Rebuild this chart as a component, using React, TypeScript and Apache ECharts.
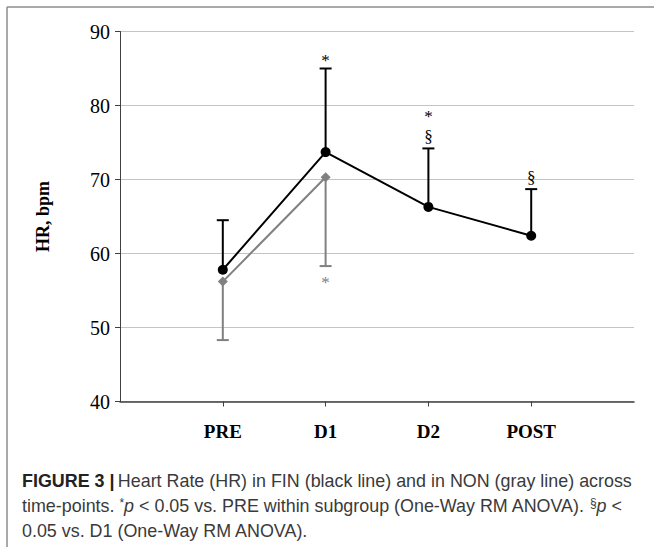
import React, { useEffect, useRef } from "react";
import * as echarts from "echarts";

const categories = ["PRE", "D1", "D2", "POST"];
const finMean = [57.8, 73.7, 66.3, 62.4];
const finUpper = [64.5, 85.0, 74.2, 68.7];
const finMarks = [[], ["*"], ["§", "*"], ["§"]];
const nonMean = [56.2, 70.3];
const nonLower = [48.3, 58.3];
const nonMarks = [[], ["*"]];
const yTicks = { min: 40, max: 90, interval: 10 };

const FIN_COLOR = "#000000";
const NON_COLOR = "#808080";
const SERIF = '"Liberation Serif", "Times New Roman", serif';

function errorBarSeries(name: string, means: number[], ends: number[], marks: string[][], color: string, up: boolean, z: number) {
  return {
    type: "custom",
    name,
    z,
    data: means.map((m, i) => [categories[i], m, ends[i]]),
    encode: { x: 0, y: [1, 2] },
    renderItem: (params: any, api: any) => {
      const x = api.value(0);
      const p0 = api.coord([x, api.value(1)]);
      const p1 = api.coord([x, api.value(2)]);
      const half = 6;
      const list = marks[params.dataIndex] || [];
      const children: any[] = [
        { type: "line", shape: { x1: p0[0], y1: p0[1], x2: p1[0], y2: p1[1] }, style: { stroke: color, lineWidth: 2 } },
        { type: "line", shape: { x1: p1[0] - half, y1: p1[1], x2: p1[0] + half, y2: p1[1] }, style: { stroke: color, lineWidth: 2 } },
      ];
      list.forEach((m, k) => {
        const center = up ? p1[1] - 12 - k * 24 : p1[1] + 12 + k * 24;
        const isStar = m === "*";
        children.push({
          type: "text",
          x: p1[0],
          y: center + (isStar ? 4 : 0),
          style: {
            text: m,
            fill: color,
            font: "17px " + SERIF,
            align: "center",
            verticalAlign: "middle",
          },
        });
      });
      return { type: "group", children };
    },
  };
}

export default function App() {
  const ref = useRef<HTMLDivElement>(null);
  useEffect(() => {
    document.body.style.margin = "0";
    const chart = echarts.init(ref.current!, null, { renderer: "svg" });
    const axisData = ["", ...categories, ""];
    const capFont = '"Liberation Sans", Arial, sans-serif';
    const cs = 17.9;
    chart.setOption({
      animation: false,
      backgroundColor: "#ffffff",
      grid: { left: 120, right: 20, top: 31.5, bottom: 145.5, containLabel: false },
      xAxis: {
        type: "category",
        data: axisData,
        boundaryGap: false,
        axisLine: { lineStyle: { color: "#404040", width: 1.5 } },
        axisTick: {
          show: true,
          length: 5,
          interval: (index: number) => index >= 1 && index <= categories.length,
          lineStyle: { color: "#404040", width: 1 },
        },
        axisLabel: {
          interval: 0,
          margin: 20,
          color: "#000",
          fontFamily: SERIF,
          fontWeight: "bold",
          fontSize: 19,
        },
        splitLine: { show: false },
      },
      yAxis: {
        type: "value",
        min: yTicks.min,
        max: yTicks.max,
        interval: yTicks.interval,
        name: "HR, bpm",
        nameLocation: "middle",
        nameGap: 68,
        nameRotate: 90,
        nameTextStyle: {
          color: "#000",
          fontFamily: SERIF,
          fontWeight: "bold",
          fontSize: 18,
        },
        axisLine: { show: true, lineStyle: { color: "#404040", width: 1 } },
        axisTick: { show: true, length: 5, lineStyle: { color: "#404040" } },
        axisLabel: {
          margin: 10,
          color: "#000",
          fontFamily: SERIF,
          fontSize: 20,
        },
        splitLine: { show: true, lineStyle: { color: "#c4c4c4", width: 1 } },
      },
      series: [
        errorBarSeries("NON err", nonMean, nonLower, nonMarks, NON_COLOR, false, 2),
        {
          type: "line",
          name: "NON",
          z: 3,
          data: nonMean.map((v, i) => [categories[i], v]),
          symbol: "diamond",
          symbolSize: 10,
          lineStyle: { color: NON_COLOR, width: 2 },
          itemStyle: { color: NON_COLOR },
        },
        errorBarSeries("FIN err", finMean, finUpper, finMarks, FIN_COLOR, true, 4),
        {
          type: "line",
          name: "FIN",
          z: 5,
          data: finMean.map((v, i) => [categories[i], v]),
          symbol: "circle",
          symbolSize: 10,
          lineStyle: { color: FIN_COLOR, width: 2 },
          itemStyle: { color: FIN_COLOR },
        },
      ],
      graphic: [
        { type: "line", shape: { x1: 7, y1: 7, x2: 654, y2: 7 }, style: { stroke: "#8c8c8c", lineWidth: 1.5 } },
        { type: "line", shape: { x1: 7, y1: 7, x2: 7, y2: 547 }, style: { stroke: "#8c8c8c", lineWidth: 1.5 } },
        {
          type: "text",
          x: 22,
          y: 481,
          style: {
            text: "{b|FIGURE 3 |} {n|Heart Rate (HR) in FIN (black line) and in NON (gray line) across}",
            verticalAlign: "middle",
            rich: {
              b: { fontFamily: capFont, fontWeight: "bold", fontSize: cs, fill: "#222" },
              n: { fontFamily: capFont, fontSize: cs, fill: "#3a3a3a" },
            },
          },
        },
        {
          type: "text",
          x: 22,
          y: 506,
          style: {
            text: "{n|time-points. }{s|*}{i|p}{n| < 0.05 vs. PRE within subgroup (One-Way RM ANOVA). }{s|§}{i|p}{n| <}",
            verticalAlign: "middle",
            rich: {
              n: { fontFamily: capFont, fontSize: cs, fill: "#3a3a3a" },
              i: { fontFamily: capFont, fontSize: cs, fontStyle: "italic", fill: "#3a3a3a" },
              s: { fontFamily: capFont, fontSize: 12, fill: "#3a3a3a", verticalAlign: "top" },
            },
          },
        },
        {
          type: "text",
          x: 22,
          y: 531,
          style: {
            text: "0.05 vs. D1 (One-Way RM ANOVA).",
            verticalAlign: "middle",
            fontFamily: capFont,
            fontSize: cs,
            fill: "#3a3a3a",
          },
        },
      ],
    });
    return () => chart.dispose();
  }, []);
  return <div ref={ref} style={{ position: "absolute", left: 0, top: 0, width: 654, height: 547 }} />;
}
